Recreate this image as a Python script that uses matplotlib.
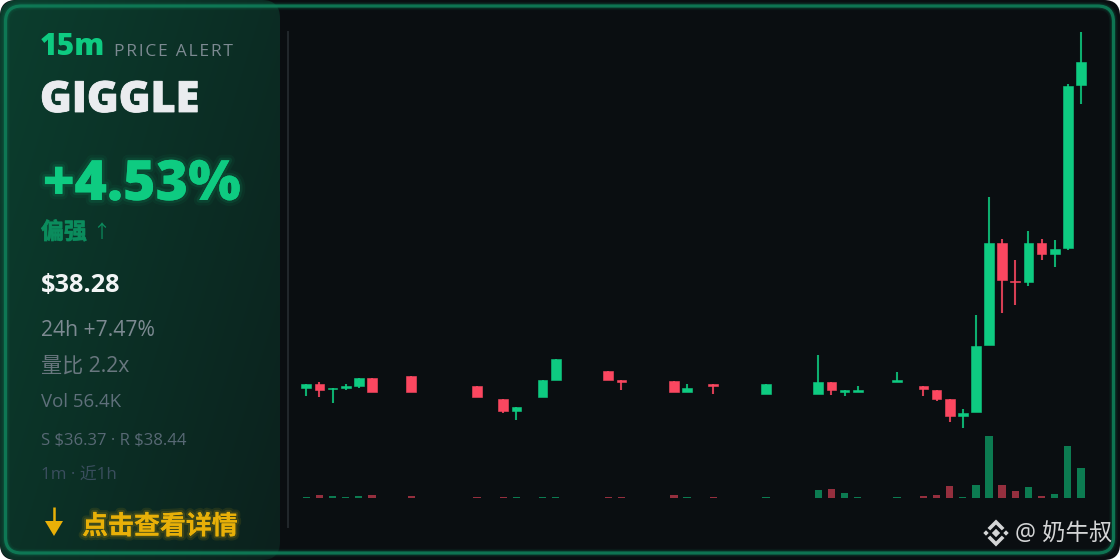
import numpy as np
import matplotlib
matplotlib.use("Agg")
import matplotlib.pyplot as plt
import matplotlib.patheffects as pe
from matplotlib.patches import FancyBboxPatch, Polygon

# 1m candles, some minutes have no trade
idx = [0, 1, 2, 3, 4, 5, 8, 13, 15, 16, 18, 19, 23, 24, 28, 29, 31, 35, 39, 40, 41, 42,
       45, 47, 48, 49, 50, 51, 52, 53, 54, 55, 56, 57, 58, 59]
opens = [36.662, 36.678, 36.653, 36.660, 36.672, 36.709, 36.719, 36.669, 36.604, 36.547, 36.614, 36.700,
         36.747, 36.699, 36.697, 36.642, 36.679, 36.632, 36.632, 36.690, 36.642, 36.642,
         36.690, 36.670, 36.650, 36.604, 36.520, 36.539, 36.874, 37.387, 37.197, 37.190,
         37.387, 37.332, 37.362, 38.174]
highs = [36.678, 36.690, 36.662, 36.680, 36.709, 36.709, 36.719, 36.669, 36.604, 36.564, 36.699, 36.804,
         36.747, 36.699, 36.697, 36.680, 36.679, 36.679, 36.825, 36.690, 36.652, 36.670,
         36.739, 36.670, 36.650, 36.604, 36.555, 37.025, 37.617, 37.407, 37.302, 37.445,
         37.407, 37.399, 38.180, 38.439]
lows = [36.622, 36.613, 36.586, 36.652, 36.662, 36.642, 36.642, 36.614, 36.537, 36.499, 36.614, 36.700,
        36.700, 36.652, 36.642, 36.642, 36.632, 36.632, 36.632, 36.624, 36.622, 36.642,
        36.690, 36.622, 36.595, 36.490, 36.460, 36.539, 36.874, 37.035, 37.074, 37.169,
        37.302, 37.264, 37.352, 38.079]
closes = [36.678, 36.652, 36.662, 36.672, 36.709, 36.642, 36.642, 36.614, 36.547, 36.564, 36.699, 36.804,
          36.700, 36.690, 36.642, 36.660, 36.670, 36.679, 36.690, 36.652, 36.652, 36.652,
          36.700, 36.654, 36.605, 36.520, 36.537, 36.870, 37.387, 37.199, 37.189, 37.387,
          37.332, 37.357, 38.170, 38.289]
vols = [0.25, 0.68, 0.58, 0.18, 0.58, 0.75, 0.42, 0.25, 0.18, 0.18, 0.18, 0.25,
        0.33, 0.18, 0.75, 0.33, 0.18, 0.18, 2.0, 2.25, 1.25, 0.18,
        0.18, 0.58, 0.68, 3.0, 0.33, 3.33, 15.4, 3.33, 1.83, 2.68,
        0.43, 1.08, 12.9, 7.43]

BG = "#0a0e11"
GREEN = "#0ecb81"
RED = "#fb4760"
FONT = ["Open Sans", "Noto Sans CJK SC", "DejaVu Sans"]
CJK = ["Noto Sans CJK SC", "DejaVu Sans"]


def px_box(left, top, right, bottom):
    return [left / 1120, 1 - bottom / 560, (right - left) / 1120, (bottom - top) / 560]


def diamond(ax, cx, cy, r, color):
    ax.add_patch(Polygon([(cx - r, cy), (cx, cy - r), (cx + r, cy), (cx, cy + r)], fc=color, ec="none", zorder=6))


def chevron(ax, cx, cy, sign, color):
    # top or bottom part of the logo
    pts = [(cx - 8.5, cy + sign * 5), (cx, cy + sign * 13.5), (cx + 8.5, cy + sign * 5),
           (cx + 5.8, cy + sign * 2.6), (cx, cy + sign * 8.4), (cx - 5.8, cy + sign * 2.6)]
    ax.add_patch(Polygon(pts, fc=color, ec="none", zorder=6))


fig = plt.figure(figsize=(11.2, 5.6), dpi=100, facecolor="white")

bg = fig.add_axes([0, 0, 1, 1])
bg.set_xlim(0, 1120)
bg.set_ylim(560, 0)
bg.axis("off")

card = FancyBboxPatch((0, 0), 1120, 560, boxstyle="round,pad=0,rounding_size=16", fc=BG, ec="none", zorder=1)
bg.add_patch(card)

# left panel, green fading to the right and to the bottom
yy, xx = np.mgrid[0:1:64j, 0:1:64j]
fade = 0.62 * xx + 0.38 * yy
start = np.array([12, 62, 46]) / 255
end = np.array([11, 33, 29]) / 255
grad = start + (end - start) * fade[..., None]
panel = FancyBboxPatch((0, 0), 280, 560, boxstyle="round,pad=0,rounding_size=18", fc="none", ec="none", zorder=2)
bg.add_patch(panel)
img = bg.imshow(grad, extent=(0, 280, 560, 0), aspect="auto", zorder=2, interpolation="bilinear")
img.set_clip_path(panel)
bg.set_xlim(0, 1120)
bg.set_ylim(560, 0)

# border with a soft glow
for lw, alpha in [(6, 0.10), (4, 0.18), (2.3, 0.9)]:
    bg.add_patch(FancyBboxPatch((5.5, 6), 1108, 547, boxstyle="round,pad=0,rounding_size=16",
                                fc="none", ec="#0f7d58", lw=lw, alpha=alpha, zorder=3))

bg.plot([288, 288], [32, 527], color="#22282c", lw=1.4, zorder=3)

bg.text(40, 55, "15m", color=GREEN, fontsize=21.6, fontweight=900, family=FONT, zorder=5)
bg.text(114, 56, "\u200a".join("PRICE ALERT"), color="#7d8a92", fontsize=12.5, family=FONT, zorder=5)
bg.text(40, 112, "GIGGLE", color="#eaecef", fontsize=31, fontweight=900, family=FONT, zorder=5,
        path_effects=[pe.withStroke(linewidth=0.6, foreground="#eaecef")])

glow = [pe.withStroke(linewidth=8, foreground=GREEN, alpha=0.05),
        pe.withStroke(linewidth=4, foreground=GREEN, alpha=0.10)]
bg.text(43, 200, "+4.53%", color=GREEN, fontsize=40, fontweight=900, family=FONT, zorder=5, path_effects=glow)
bg.text(41, 239, "偏强", color="#0b8c5d", fontsize=16.5, fontweight="bold", family=CJK, zorder=5,
        path_effects=[pe.withStroke(linewidth=0.5, foreground="#0b8c5d")])
bg.text(92, 238, "↑", color="#0b8c5d", fontsize=13, family=FONT, zorder=5)
bg.text(41, 292, r"\$38.28", color="#f2f4f5", fontsize=18.3, fontweight="bold", family=FONT, zorder=5)
bg.text(41, 336, "24h +7.47%", color="#7d8a92", fontsize=15.2, family=FONT, zorder=5)
bg.text(41, 372, "量比 2.2x", color="#69777f", fontsize=15.2, family=FONT, zorder=5)
bg.text(41, 407, "Vol 56.4K", color="#5f707b", fontsize=13.4, family=FONT, zorder=5)
bg.text(41, 444, r"S \$36.37 · R \$38.44", color="#586975", fontsize=12, family=FONT, zorder=5)
bg.text(41, 480, "1m · 近1h", color="#3a4e5e", fontsize=12.2, family=FONT, zorder=5)

GOLD = "#e8b008"
gold_glow = [pe.withStroke(linewidth=6, foreground=GOLD, alpha=0.10), pe.withStroke(linewidth=3, foreground=GOLD, alpha=0.15)]
bg.plot([54, 54], [507, 525], color=GOLD, lw=1.8, zorder=5, solid_capstyle="butt")
bg.add_patch(Polygon([(45, 521), (63, 521), (54, 536)], fc=GOLD, ec="none", zorder=5))
bg.text(82, 534, "点击查看详情", color=GOLD, fontsize=18.7, fontweight="bold", family=CJK, zorder=5, path_effects=gold_glow)

# watermark
LOGO = "#d4d5d6"
diamond(bg, 996, 533, 4.2, LOGO)
diamond(bg, 986, 533, 2.7, LOGO)
diamond(bg, 1006, 533, 2.7, LOGO)
chevron(bg, 996, 533, -1, LOGO)
chevron(bg, 996, 533, 1, LOGO)
bg.text(1015, 541, "@ 奶牛叔", color=LOGO, fontsize=16.8, family=FONT, zorder=6)

# candles
ax = fig.add_axes(px_box(296, 20, 1090, 432), zorder=2)
ax.patch.set_visible(False)
ax.axis("off")
ax.set_xlim(-0.784, 59.69)
ax.set_ylim(36.44, 38.50)

colors = [GREEN if c >= o else RED for o, c in zip(opens, closes)]
bottoms = [min(o, c) for o, c in zip(opens, closes)]
heights = [abs(c - o) for o, c in zip(opens, closes)]
ax.vlines(idx, lows, highs, colors=colors, lw=1.5, alpha=0.85)
ax.bar(idx, heights, bottom=bottoms, width=0.74, color=colors, edgecolor=colors, lw=0.4)

# volume
vax = fig.add_axes(px_box(296, 432, 1090, 498), zorder=2)
vax.patch.set_visible(False)
vax.axis("off")
vax.set_xlim(-0.784, 59.69)
vax.set_ylim(0, 16.5)
vax.bar(idx, vols, width=0.56, color=colors, alpha=0.58)

fig.savefig("out.png", dpi=100)
